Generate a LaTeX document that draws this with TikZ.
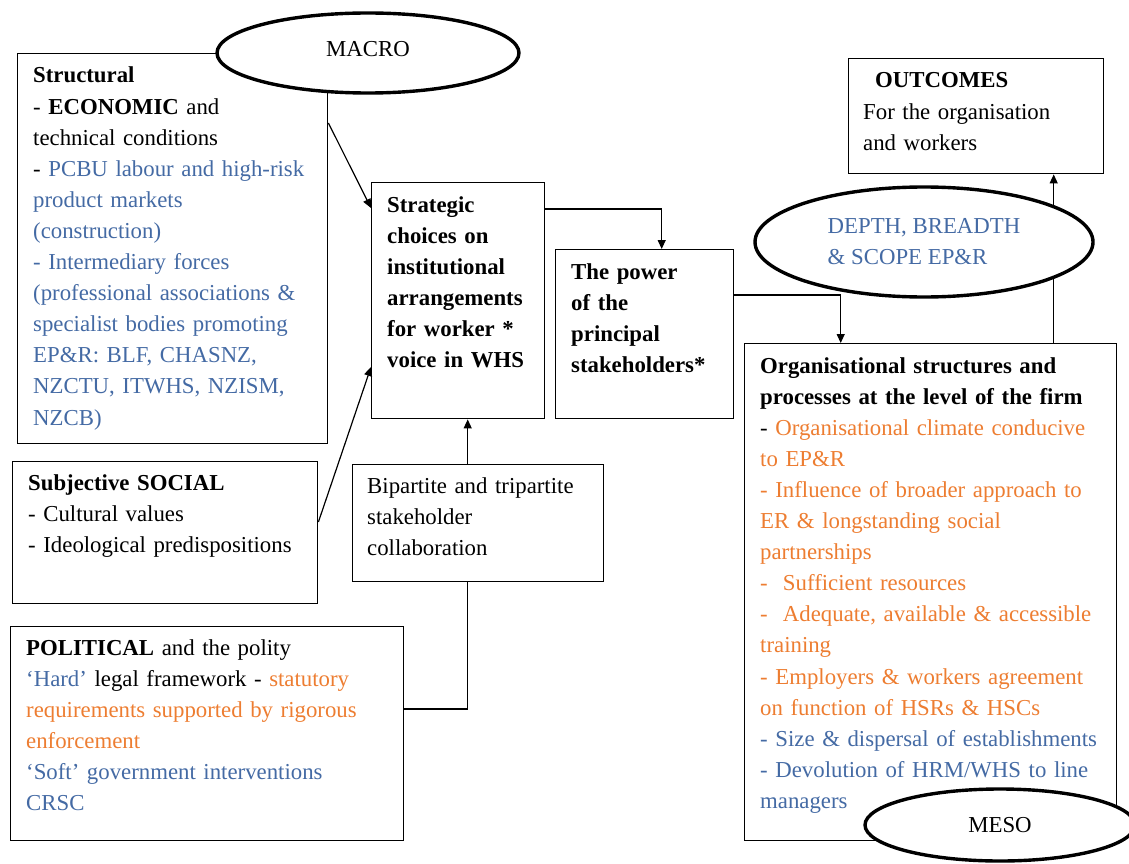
\documentclass[tikz,border=0pt]{standalone}
\usepackage{fontspec}
\setmainfont{Liberation Serif}
\usetikzlibrary{shapes.geometric,arrows.meta}

\definecolor{txtblue}{RGB}{68,106,164}
\definecolor{txtorange}{RGB}{237,125,49}
\newcommand{\diagfont}{\fontsize{22.8pt}{31.1pt}\selectfont}
\newcommand{\bl}[1]{\textcolor{txtblue}{#1}}
\newcommand{\og}[1]{\textcolor{txtorange}{#1}}

\tikzset{
  box/.style={draw, line width=1.4pt, rectangle, anchor=north west, inner sep=0pt},
  txt/.style={anchor=base west, inner sep=0pt, text width=420pt, align=left, font=\diagfont},
  oval/.style={draw, ellipse, line width=3.4pt, fill=white, inner sep=0pt, font=\diagfont, align=left},
  arr/.style={line width=1.2pt, -{Triangle[length=9pt,width=8pt]}},
  link/.style={line width=1.2pt},
}

\begin{document}
\begin{tikzpicture}[x=1pt,y=1pt]
\useasboundingbox (0,0) rectangle (1129,-864);

% frames
\node[box, minimum width=310pt, minimum height=390pt] (structural) at (17,-53) {};
\node[box, minimum width=173pt, minimum height=236pt] (strategic) at (371,-182) {};
\node[box, minimum width=178pt, minimum height=169pt] (power) at (555,-249) {};
\node[box, minimum width=251pt, minimum height=117pt] (bipartite) at (352,-464) {};
\node[box, minimum width=255pt, minimum height=115pt] (outcomes) at (848,-58) {};
\node[box, minimum width=372pt, minimum height=497pt] (org) at (744,-343) {};
\node[box, minimum width=305pt, minimum height=142pt] (social) at (12,-461) {};
\node[box, minimum width=393pt, minimum height=214pt] (political) at (10,-626) {};

% connectors
\draw[arr] ([yshift=-70pt]structural.north east) -- ([yshift=-26pt]strategic.north west);
\draw[arr] ([yshift=-61pt]social.north east) -- ([yshift=-185pt]strategic.north west);
\draw[arr] ([yshift=-27pt]strategic.north east) -| ([xshift=17pt]power.north);
\draw[arr] ([yshift=-46pt]power.north east) -| ([xshift=-90pt]org.north);
\draw[arr] ([xshift=123pt]org.north) -- ([xshift=77.5pt]outcomes.south);
\draw[arr] ([xshift=-10.5pt]bipartite.north) -- ([xshift=9.5pt]strategic.south);
\draw[link] ([yshift=-83pt]political.north east) -| ([xshift=-10.5pt]bipartite.south);

% level ovals
\node[oval, minimum width=302pt, minimum height=80pt, text depth=8pt] (macro) at (368,-53) {MACRO};
\node[oval, minimum width=338pt, minimum height=110pt, text=txtblue] (depth) at (924,-242) {DEPTH, BREADTH\\ \& SCOPE EP\&R};
\node[oval, minimum width=270pt, minimum height=72pt] (meso) at (1000,-825) {MESO};

% box texts
\node[txt] (structuraltxt) at (33,-83) {\textbf{Structural}\\
- \textbf{ECONOMIC} and\\
technical conditions\\
- \bl{PCBU labour and high-risk}\\
\bl{product markets}\\
\bl{(construction)}\\
\bl{- Intermediary forces}\\
\bl{(professional associations \&}\\
\bl{specialist bodies promoting}\\
\bl{EP\&R: BLF, CHASNZ,}\\
\bl{NZCTU, ITWHS, NZISM,}\\
\bl{NZCB)}};

\node[txt, font=\diagfont\bfseries] (strategictxt) at (387,-212) {Strategic\\
choices on\\
institutional\\
arrangements\\
for worker *\\
voice in WHS};

\node[txt, font=\diagfont\bfseries] (powertxt) at (571,-279) {The power\\
of the\\
principal\\
stakeholders*};

\node[txt] (bipartitetxt) at (367,-493) {Bipartite and tripartite\\
stakeholder\\
collaboration};

\node[txt] (outcomestxt) at (863,-88) {\hspace*{12pt}\textbf{OUTCOMES}\\
For the organisation\\
and workers};

\node[txt] (orgtxt) at (760,-373) {\textbf{Organisational structures and}\\
\textbf{processes at the level of the firm}\\
- \og{Organisational climate conducive}\\
\og{to EP\&R}\\
\og{- Influence of broader approach to}\\
\og{ER \& longstanding social}\\
\og{partnerships}\\
\og{-\ \ Sufficient resources}\\
\og{-\ \ Adequate, available \& accessible}\\
\og{training}\\
\og{- Employers \& workers agreement}\\
\og{on function of HSRs \& HSCs}\\
\bl{- Size \& dispersal of establishments}\\
\bl{- Devolution of HRM/WHS to line}\\
\bl{managers}};

\node[txt] (socialtxt) at (28,-490) {\textbf{Subjective SOCIAL}\\
- Cultural values\\
- Ideological predispositions};

\node[txt] (politicaltxt) at (26,-655) {\textbf{POLITICAL} and the polity\\
\bl{‘Hard’} legal framework - \og{statutory}\\
\og{requirements supported by rigorous}\\
\og{enforcement}\\
\bl{‘Soft’ government interventions}\\
\bl{CRSC}};

\end{tikzpicture}
\end{document}
